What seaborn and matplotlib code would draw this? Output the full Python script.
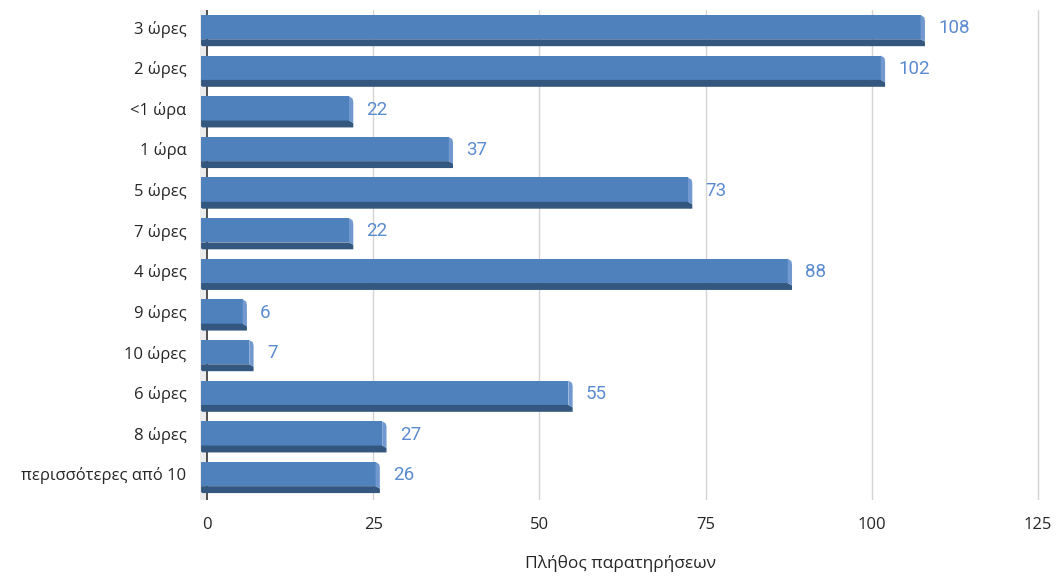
import matplotlib
matplotlib.use("Agg")
import matplotlib.pyplot as plt
from matplotlib.patches import Polygon, Rectangle
import seaborn as sns
import pandas as pd

categories = ["3 ώρες", "2 ώρες", "<1 ώρα", "1 ώρα", "5 ώρες", "7 ώρες", "4 ώρες",
              "9 ώρες", "10 ώρες", "6 ώρες", "8 ώρες", "περισσότερες από 10"]
values = [108, 102, 22, 37, 73, 22, 88, 6, 7, 55, 27, 26]
xticks = [0, 25, 50, 75, 100, 125]
xlabel = "Πλήθος παρατηρήσεων"

sns.set_style("white")
plt.rcParams['font.family'] = ['Open Sans', 'DejaVu Sans']

df = pd.DataFrame({"cat": categories, "val": values})

fig = plt.figure(figsize=(10.62, 5.83), dpi=100)
ax = fig.add_axes([0.1887, 0.1424, 0.9805 - 0.1887, 0.9828 - 0.1424])

face_c = "#4f81bd"
dark_c = "#34577f"
cap_c = "#7199cf"

sns.barplot(data=df, x="val", y="cat", orient="h", color=face_c, width=0.60,
            saturation=1, ax=ax, zorder=3)

x0 = -0.9
cap_w = 0.65
for p, v in zip(ax.patches, values):
    y_top = p.get_y() - 0.08
    h = p.get_height()
    y_bot = y_top + h
    strip = 0.17
    p.set_x(x0)
    p.set_y(y_top)
    p.set_width(v - x0 - cap_w)
    p.set_edgecolor("none")
    # dark bottom strip
    ax.add_patch(Polygon([(x0, y_bot), (v - cap_w, y_bot), (v, y_bot + strip * 0.35),
                          (v, y_bot + strip), (x0 + 0.2, y_bot + strip), (x0, y_bot + strip * 0.85)],
                         closed=True, facecolor=dark_c, edgecolor="none", zorder=3))
    # light right cap
    ax.add_patch(Polygon([(v - cap_w, y_top), (v - 0.1, y_top + 0.06), (v, y_top + 0.14),
                          (v, y_bot + strip * 0.35), (v - cap_w, y_bot)],
                         closed=True, facecolor=cap_c, edgecolor="none", zorder=3))
    ax.text(v + 2.0, y_top + h / 2 + 0.03, str(v), color="#5b8bd0", fontsize=13.5,
            va="center", ha="left", family=["Roboto", "DejaVu Sans"])

ax.set_xlim(-1.0, 125.5)
ax.set_ylim(11.56, -0.5)

# left wall
ax.add_patch(Rectangle((-1.0, -0.5), 1.0, 12.06, facecolor="#ececec", edgecolor="none", zorder=1))

ax.set_xticks(xticks)
ax.set_xticklabels([str(t) for t in xticks], fontsize=12)
ax.set_yticks([i - 0.08 for i in range(len(categories))])
ax.set_yticklabels(categories, fontsize=12)
ax.tick_params(axis="y", length=0, pad=10)
ax.tick_params(axis="x", length=0, pad=12)

for t in xticks[1:]:
    ax.axvline(t, color="#d4d4d4", lw=1, zorder=0)
ax.axvline(0, color="#333333", lw=1.2, zorder=2)

for s in ax.spines.values():
    s.set_visible(False)

ax.set_xlabel(xlabel, fontsize=12.5, labelpad=16)
ax.set_ylabel("")

fig.savefig("out.png", dpi=100)
